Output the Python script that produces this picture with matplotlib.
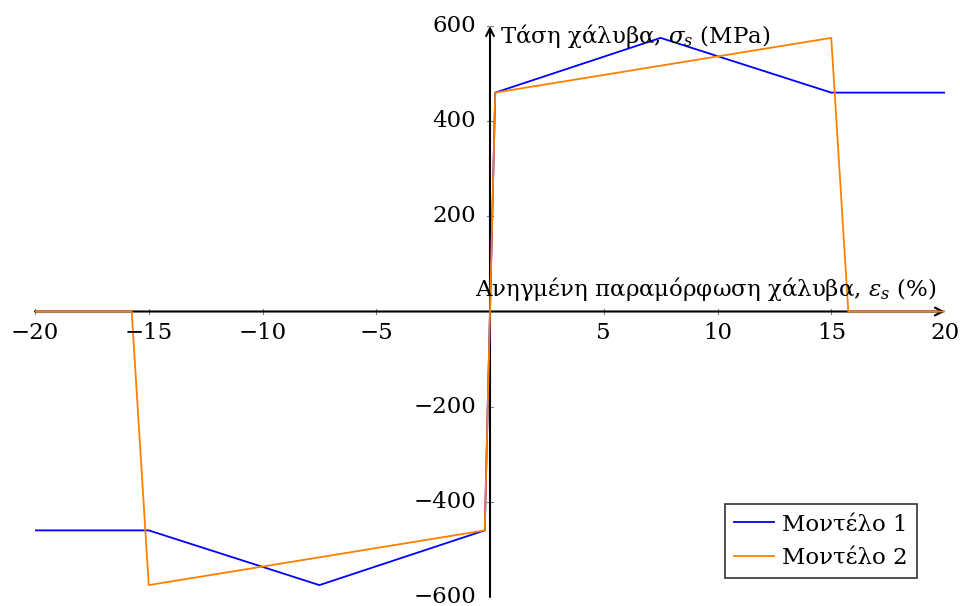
import matplotlib
matplotlib.use("Agg")
import matplotlib.pyplot as plt

plt.rcParams['font.family'] = ['DejaVu Serif']
plt.rcParams['mathtext.fontset'] = 'dejavuserif'

# Data
m1_x = [-20, -15, -7.5, -0.23, 0, 0.23, 7.5, 15, 20]
m1_y = [-460, -460, -575, -460, 0, 460, 575, 460, 460]
m2_x = [-20, -15.75, -15, -0.23, 0, 0.23, 15, 15.75, 20]
m2_y = [0, 0, -575, -460, 0, 460, 575, 0, 0]
xticks = [-20, -15, -10, -5, 5, 10, 15, 20]
yticks = [-600, -400, -200, 200, 400, 600]
labels = ["Μοντέλο 1", "Μοντέλο 2"]

fig = plt.figure(figsize=(9.6, 6.06), dpi=100)
ax = fig.add_axes([35/960, 9/606, 910/960, 571/606])
ax.set_xlim(-20, 20)
ax.set_ylim(-600, 600)

for s in ax.spines.values():
    s.set_visible(False)

ax.plot(m1_x, m1_y, color=(0, 0, 1), lw=1.3, label=labels[0], zorder=3)
ax.plot(m2_x, m2_y, color=(1, 0.5, 0), lw=1.3, label=labels[1], zorder=3)

# axis lines with arrows
ax.annotate('', xy=(20, 0), xytext=(-20, 0),
            arrowprops=dict(arrowstyle='->', color='black', lw=1.5, shrinkA=0, shrinkB=0,
                            mutation_scale=14), zorder=2)
ax.annotate('', xy=(0, 600), xytext=(0, -600),
            arrowprops=dict(arrowstyle='->', color='black', lw=1.5, shrinkA=0, shrinkB=0,
                            mutation_scale=14), zorder=2)

fs = 16.5
for xt in xticks:
    ax.plot([xt, xt], [-6, 6], color='gray', lw=0.8, zorder=1)
    lab = str(xt).replace('-', '\u2212')
    ax.text(xt, -22, lab, ha='center', va='top', fontsize=fs)
for yt in yticks:
    ax.plot([-0.12, 0.12], [yt, yt], color='gray', lw=0.8, zorder=1)
    lab = str(yt).replace('-', '\u2212')
    ax.text(-0.6, yt, lab, ha='right', va='center', fontsize=fs)
ax.set_xticks([])
ax.set_yticks([])

ax.text(0.45, 578, r"Τάση χάλυβα, $\sigma_s$ (MPa)", ha='left', va='center', fontsize=fs)
ax.text(19.6, 48, r"Ανηγμένη παραμόρφωση χάλυβα, $\varepsilon_s$ (%)", ha='right', va='center', fontsize=fs)

leg = ax.legend(loc='lower right', fontsize=fs, frameon=True, fancybox=False,
                edgecolor='black', handlelength=1.75, borderpad=0.4, labelspacing=0.5,
                handletextpad=0.35, borderaxespad=0)
leg.get_frame().set_linewidth(1.2)
leg.set_bbox_to_anchor((882/910, (606 - 578 - 9)/571), transform=ax.transAxes)

fig.savefig("out.png", dpi=100)
